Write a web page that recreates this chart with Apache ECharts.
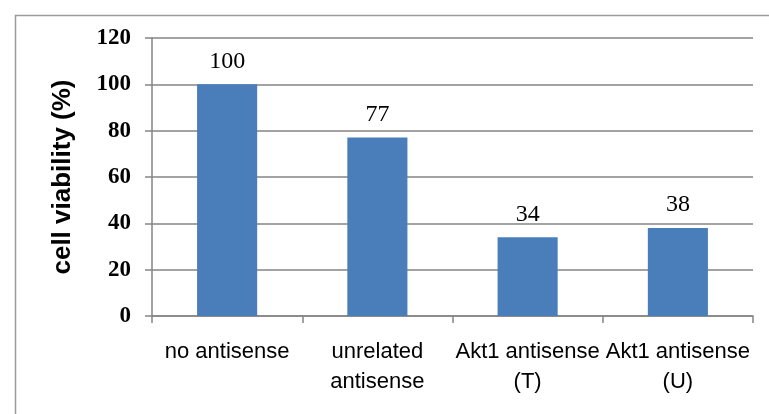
<!DOCTYPE html>
<html>
<head>
<meta charset="utf-8">
<script src="https://cdn.jsdelivr.net/npm/echarts@6/dist/echarts.min.js"></script>
<style>
  html, body { margin: 0; padding: 0; background: #fff; }
  #chart { width: 769px; height: 414px; }
</style>
</head>
<body>
<div id="chart"></div>
<script>
// Cell viability after antisense treatment
var categories = ['no antisense', 'unrelated\nantisense', 'Akt1 antisense\n(T)', 'Akt1 antisense\n(U)'];
var viability = [100, 77, 34, 38];
var yTicks = { min: 0, max: 120, interval: 20 };
var yTitle = 'cell viability (%)';

var chart = echarts.init(document.getElementById('chart'), null, { renderer: 'canvas' });

chart.setOption({
  backgroundColor: '#ffffff',
  animation: false,
  graphic: [{
    type: 'rect',
    left: 13, top: 13,
    shape: { width: 800, height: 450 },
    style: { fill: 'none', stroke: '#9a9a9a', lineWidth: 1.5 },
    silent: true
  }],
  grid: { left: 152, right: 16, top: 38, bottom: 98 },
  xAxis: {
    type: 'category',
    data: categories,
    boundaryGap: true,
    axisLine: { lineStyle: { color: '#858585', width: 1.5 } },
    axisTick: { show: true, length: 7, lineStyle: { color: '#858585', width: 1.5 } },
    axisLabel: {
      interval: 0,
      margin: 21,
      color: '#000',
      fontFamily: 'Liberation Sans',
      fontSize: 22,
      lineHeight: 30
    }
  },
  yAxis: {
    type: 'value',
    min: yTicks.min,
    max: yTicks.max,
    interval: yTicks.interval,
    name: yTitle,
    nameLocation: 'middle',
    nameGap: 76,
    nameTextStyle: {
      color: '#000',
      fontFamily: 'Liberation Sans',
      fontWeight: 'bold',
      fontSize: 26
    },
    axisLine: { show: true, lineStyle: { color: '#858585', width: 1.5 } },
    axisTick: { show: true, length: 7, lineStyle: { color: '#858585', width: 1.5 } },
    axisLabel: {
      margin: 21,
      color: '#000',
      fontFamily: 'Liberation Serif',
      fontWeight: 'bold',
      fontSize: 23
    },
    splitLine: { lineStyle: { color: '#858585', width: 1.5 } }
  },
  series: [{
    type: 'bar',
    data: viability,
    barWidth: '40%',
    itemStyle: { color: '#4a7ebb' },
    label: {
      show: true,
      position: 'top',
      distance: 11,
      color: '#000',
      fontFamily: 'Liberation Serif',
      fontSize: 24
    }
  }]
});
</script>
</body>
</html>
